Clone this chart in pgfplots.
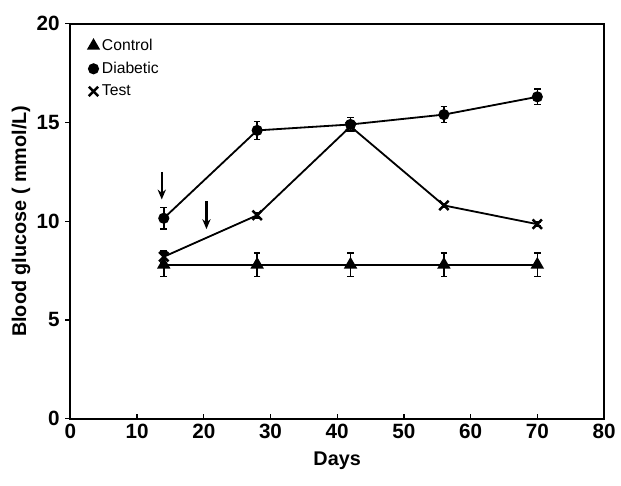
\documentclass[border=0pt]{standalone}
\usepackage{fontspec}
\setmainfont{Liberation Sans}
\usepackage{pgfplots}
\pgfplotsset{compat=1.18}
\usetikzlibrary{arrows.meta}
\begin{document}
\begin{tikzpicture}
\begin{axis}[
  name=main,
  scale only axis,
  width=323pt, height=239pt,
  xmin=0, xmax=80, ymin=0, ymax=20,
  xtick={0,10,...,80},
  ytick={0,5,10,15,20},
  x tick style={black, line width=0.8pt},
  y tick style={black, line width=0.8pt},
  xtick align=inside, ytick align=outside,
  tick pos=left,
  major tick length=3pt,
  tick label style={font=\bfseries\fontsize{12.5}{14}\selectfont},
  /pgf/number format/assume math mode=true,
  xlabel={\textbf{Days}},
  ylabel={\textbf{Blood glucose ( mmol/L)}},
  xlabel style={font=\fontsize{12}{14}\selectfont, yshift=-1pt},
  ylabel style={font=\fontsize{12}{14}\selectfont, yshift=-3pt},
  axis line style={line width=1.2pt},
  legend style={draw=none, fill=none, at={(0.03,0.975)}, anchor=north west,
    font=\fontsize{9.5}{11}\selectfont, row sep=1.5pt, inner sep=1pt},
  legend cell align=left,
  legend image code/.code={\draw[#1] plot coordinates {(0.12cm,0cm)};},
  clip=false,
]
% control
\addplot+[black, line width=1.1pt, mark=triangle*, mark size=3.6pt,
  mark options={fill=black, solid},
  error bars/.cd, y dir=both, y explicit, error bar style={line width=0.9pt},
  error mark options={rotate=90, mark size=2pt, line width=0.9pt}]
  coordinates {(14,7.8) +- (0,0.6) (28,7.8) +- (0,0.6) (42,7.8) +- (0,0.6) (56,7.8) +- (0,0.6) (70,7.8) +- (0,0.6)};
\addlegendentry{Control}
% diabetic
\addplot+[black, line width=1.1pt, mark=*, mark size=2.8pt,
  mark options={fill=black, solid},
  error bars/.cd, y dir=both, y explicit, error bar style={line width=0.9pt},
  error mark options={rotate=90, mark size=2pt, line width=0.9pt}]
  coordinates {(14,10.15) +- (0,0.55) (28,14.6) +- (0,0.45) (42,14.9) +- (0,0.35) (56,15.4) +- (0,0.4) (70,16.3) +- (0,0.4)};
\addlegendentry{Diabetic}
% test
\addplot+[black, line width=1.1pt, mark=x, mark size=4pt,
  mark options={line width=1.5pt, solid},
  error bars/.cd, y dir=both, y explicit, error bar style={line width=0.9pt},
  error mark options={rotate=90, mark size=2pt, line width=0.9pt}]
  coordinates {(14,8.2) +- (0,0.3) (28,10.3) +- (0,0.15) (42,14.8) +- (0,0.2) (56,10.8) +- (0,0.1) (70,9.85) +- (0,0.1)};
\addlegendentry{Test}
% arrows
\draw[-{Stealth[length=6pt,width=5pt]}, line width=1.3pt] (axis cs:13.7,12.5) -- (axis cs:13.7,11.1);
\draw[-{Stealth[length=6pt,width=5pt]}, line width=1.3pt] (axis cs:20.4,11.0) -- (axis cs:20.4,9.6);
\end{axis}
\path ([xshift=-42.6pt,yshift=-40.2pt]main.south west) rectangle ([xshift=7pt,yshift=14.4pt]main.north east);
\end{tikzpicture}
\end{document}
